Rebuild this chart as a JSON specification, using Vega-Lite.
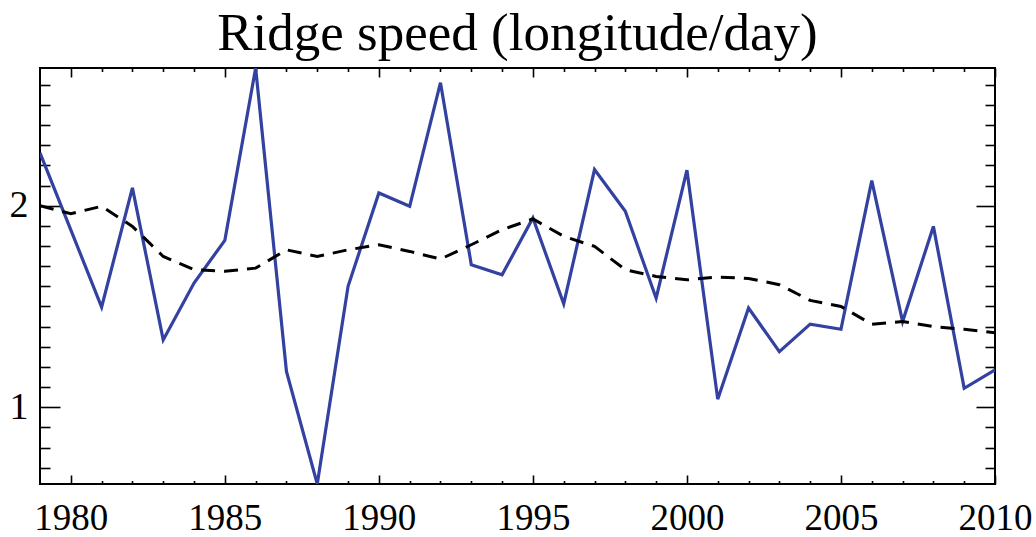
{
  "$schema": "https://vega.github.io/schema/vega-lite/v6.json",
  "autosize": {"type": "none"},
  "padding": {"left": 40, "top": 68, "right": 41, "bottom": 53},
  "width": 955,
  "height": 416,
  "background": "white",
  "title": {"text": "Ridge speed (longitude/day)", "font": "Liberation Serif", "fontSize": 53, "fontWeight": "normal", "color": "black", "anchor": "middle", "frame": "group", "offset": 6},
  "config": {
    "view": {"stroke": "black", "strokeWidth": 2},
    "axis": {"grid": false, "domain": false, "tickColor": "black", "tickWidth": 1.6, "labelColor": "black", "labelFont": "Liberation Serif", "labelFontSize": 38, "labelFlush": false, "labelOverlap": false}
  },
  "data": {"values": [
    {"year": 1979, "annual": 2.262, "smoothed": 2.0},
    {"year": 1980, "annual": 1.88, "smoothed": 1.96},
    {"year": 1981, "annual": 1.497, "smoothed": 1.997},
    {"year": 1982, "annual": 2.088, "smoothed": 1.897},
    {"year": 1983, "annual": 1.334, "smoothed": 1.748},
    {"year": 1984, "annual": 1.616, "smoothed": 1.682},
    {"year": 1985, "annual": 1.828, "smoothed": 1.674},
    {"year": 1986, "annual": 2.683, "smoothed": 1.69},
    {"year": 1987, "annual": 1.177, "smoothed": 1.781},
    {"year": 1988, "annual": 0.619, "smoothed": 1.748},
    {"year": 1989, "annual": 1.6, "smoothed": 1.781},
    {"year": 1990, "annual": 2.063, "smoothed": 1.806},
    {"year": 1991, "annual": 1.997, "smoothed": 1.773},
    {"year": 1992, "annual": 2.61, "smoothed": 1.735},
    {"year": 1993, "annual": 1.707, "smoothed": 1.806},
    {"year": 1994, "annual": 1.657, "smoothed": 1.881},
    {"year": 1995, "annual": 1.939, "smoothed": 1.934},
    {"year": 1996, "annual": 1.513, "smoothed": 1.848},
    {"year": 1997, "annual": 2.179, "smoothed": 1.798},
    {"year": 1998, "annual": 1.972, "smoothed": 1.682},
    {"year": 1999, "annual": 1.541, "smoothed": 1.649},
    {"year": 2000, "annual": 2.176, "smoothed": 1.632},
    {"year": 2001, "annual": 1.04, "smoothed": 1.646},
    {"year": 2002, "annual": 1.492, "smoothed": 1.639},
    {"year": 2003, "annual": 1.276, "smoothed": 1.608},
    {"year": 2004, "annual": 1.412, "smoothed": 1.53},
    {"year": 2005, "annual": 1.387, "smoothed": 1.5},
    {"year": 2006, "annual": 2.124, "smoothed": 1.412},
    {"year": 2007, "annual": 1.425, "smoothed": 1.425},
    {"year": 2008, "annual": 1.897, "smoothed": 1.4},
    {"year": 2009, "annual": 1.094, "smoothed": 1.387},
    {"year": 2010, "annual": 1.185, "smoothed": 1.37}
  ]},
  "resolve": {"axis": {"x": "independent", "y": "independent"}},
  "layer": [
    {
      "mark": {"type": "line", "color": "#3341A0", "strokeWidth": 3.2, "clip": true},
      "encoding": {
        "x": {"field": "year", "type": "quantitative", "scale": {"domain": [1979, 2010], "nice": false, "zero": false},
              "axis": {"orient": "bottom", "title": null, "values": [1980, 1985, 1990, 1995, 2000, 2005, 2010], "ticks": false, "labelPadding": 16, "labelFontSize": 37, "format": "d"}},
        "y": {"field": "annual", "type": "quantitative", "scale": {"domain": [0.619, 2.683], "nice": false, "zero": false},
              "axis": {"orient": "left", "title": null, "values": [1, 2], "ticks": false, "labelPadding": 12, "format": "d"}}
      }
    },
    {
      "mark": {"type": "line", "color": "black", "strokeWidth": 3, "strokeDash": [14, 9], "clip": true},
      "encoding": {
        "x": {"field": "year", "type": "quantitative",
              "axis": {"orient": "bottom", "title": null, "values": [1980, 1985, 1990, 1995, 2000, 2005, 2010], "labels": false, "tickSize": 9, "offset": -9}},
        "y": {"field": "smoothed", "type": "quantitative",
              "axis": {"orient": "left", "title": null, "values": [1, 2], "labels": false, "tickSize": 20, "offset": -20}}
      }
    },
    {
      "mark": {"type": "line", "strokeOpacity": 0, "clip": true},
      "encoding": {
        "x": {"field": "year", "type": "quantitative",
              "axis": {"orient": "bottom", "title": null, "values": [1981, 1982, 1983, 1984, 1986, 1987, 1988, 1989, 1991, 1992, 1993, 1994, 1996, 1997, 1998, 1999, 2001, 2002, 2003, 2004, 2006, 2007, 2008, 2009], "labels": false, "tickSize": 3.5, "offset": -3.5}},
        "y": {"field": "annual", "type": "quantitative",
              "axis": {"orient": "left", "title": null, "values": [0.7, 0.8, 0.9, 1.1, 1.2, 1.3, 1.4, 1.5, 1.6, 1.7, 1.8, 1.9, 2.1, 2.2, 2.3, 2.4, 2.5, 2.6], "labels": false, "tickSize": 10, "offset": -10}}
      }
    },
    {
      "mark": {"type": "line", "strokeOpacity": 0, "clip": true},
      "encoding": {
        "x": {"field": "year", "type": "quantitative",
              "axis": {"orient": "top", "title": null, "values": [1980, 1985, 1990, 1995, 2000, 2005, 2010], "labels": false, "tickSize": 9, "offset": -9}},
        "y": {"field": "annual", "type": "quantitative",
              "axis": {"orient": "right", "title": null, "values": [1, 2], "labels": false, "tickSize": 19, "offset": -19}}
      }
    },
    {
      "mark": {"type": "line", "strokeOpacity": 0, "clip": true},
      "encoding": {
        "x": {"field": "year", "type": "quantitative",
              "axis": {"orient": "top", "title": null, "values": [1981, 1982, 1983, 1984, 1986, 1987, 1988, 1989, 1991, 1992, 1993, 1994, 1996, 1997, 1998, 1999, 2001, 2002, 2003, 2004, 2006, 2007, 2008, 2009], "labels": false, "tickSize": 3.5, "offset": -3.5}},
        "y": {"field": "annual", "type": "quantitative",
              "axis": {"orient": "right", "title": null, "values": [0.7, 0.8, 0.9, 1.1, 1.2, 1.3, 1.4, 1.5, 1.6, 1.7, 1.8, 1.9, 2.1, 2.2, 2.3, 2.4, 2.5, 2.6], "labels": false, "tickSize": 10, "offset": -10}}
      }
    }
  ]
}
